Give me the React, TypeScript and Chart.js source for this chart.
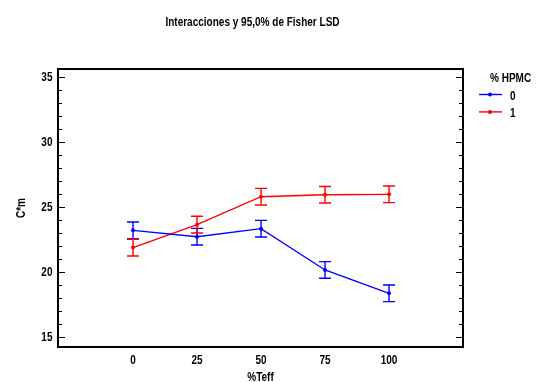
import React, { useEffect, useRef } from 'react';
import { Chart, registerables } from 'chart.js';

Chart.register(...registerables);

const TEFF = [0, 25, 50, 75, 100];
const HPMC0 = [23.18, 22.69, 23.31, 20.13, 18.33];
const HPMC1 = [21.85, 23.62, 25.77, 25.92, 25.95];
const LSD0 = [0.64, 0.64, 0.64, 0.64, 0.64];
const LSD1 = [0.64, 0.64, 0.64, 0.64, 0.64];
const X_TICKS = [0, 25, 50, 75, 100];
const Y_TICKS = [15, 20, 25, 30, 35];
const SERIES_LABELS = ['0', '1'];
const COLORS = ['#0000ff', '#ff0000'];
const TITLE = 'Interacciones y 95,0% de Fisher LSD';
const X_TITLE = '%Teff';
const Y_TITLE = 'C*m';
const LEGEND_TITLE = '% HPMC';

const FONT = "'Liberation Sans', Arial, sans-serif";
const SX = 0.77;

function drawText(ctx: CanvasRenderingContext2D, text: string, x: number, y: number, align: CanvasTextAlign, size = 13, rotate = false) {
  ctx.save();
  ctx.translate(x, y);
  if (rotate) ctx.rotate(-Math.PI / 2);
  ctx.scale(SX, 1);
  ctx.font = `bold ${size}px ${FONT}`;
  ctx.fillStyle = '#000';
  ctx.textAlign = align;
  ctx.textBaseline = 'alphabetic';
  ctx.fillText(text, 0, 0);
  ctx.restore();
}

const decorPlugin = {
  id: 'decor',
  afterDatasetsDraw(chart: any) {
    const ctx = chart.ctx;
    const xs = chart.scales.x;
    const ys = chart.scales.y;
    const errs = [LSD0, LSD1];
    chart.data.datasets.forEach((ds: any, di: number) => {
      ctx.save();
      ctx.strokeStyle = COLORS[di];
      ctx.lineWidth = 1.4;
      ds.data.forEach((p: any, i: number) => {
        const x = xs.getPixelForValue(p.x);
        const yt = ys.getPixelForValue(p.y + errs[di][i]);
        const yb = ys.getPixelForValue(p.y - errs[di][i]);
        ctx.beginPath();
        ctx.moveTo(x, yt);
        ctx.lineTo(x, yb);
        ctx.moveTo(x - 6, yt);
        ctx.lineTo(x + 6, yt);
        ctx.moveTo(x - 6, yb);
        ctx.lineTo(x + 6, yb);
        ctx.stroke();
      });
      ctx.restore();
    });
  },
  afterDraw(chart: any) {
    const ctx = chart.ctx;
    const a = chart.chartArea;
    const xs = chart.scales.x;
    const ys = chart.scales.y;
    ctx.save();
    ctx.strokeStyle = '#000';
    ctx.lineWidth = 2;
    ctx.strokeRect(a.left, a.top, a.right - a.left, a.bottom - a.top);
    ctx.lineWidth = 1.2;
    for (let v = Math.ceil(ys.min); v <= Math.floor(ys.max); v++) {
      const y = Math.round(ys.getPixelForValue(v)) + 0.5;
      const len = v % 5 === 0 ? 7 : 4;
      ctx.beginPath();
      ctx.moveTo(a.left, y);
      ctx.lineTo(a.left + len, y);
      ctx.moveTo(a.right, y);
      ctx.lineTo(a.right - len, y);
      ctx.stroke();
    }
    ctx.restore();

    // title
    drawText(ctx, TITLE, 252.5, 25.5, 'center', 13);
    // y tick labels
    Y_TICKS.forEach((v) => {
      drawText(ctx, String(v), a.left - 5.5, ys.getPixelForValue(v) + 4.7, 'right', 13);
    });
    // x tick labels
    X_TICKS.forEach((v) => {
      drawText(ctx, String(v), xs.getPixelForValue(v), a.bottom + 16.5, 'center', 13);
    });
    // axis titles
    drawText(ctx, X_TITLE, (a.left + a.right) / 2, a.bottom + 33.5, 'center', 13);
    drawText(ctx, Y_TITLE, 25, (a.top + a.bottom) / 2, 'center', 13, true);

    // legend
    const lx = a.right + 27;
    drawText(ctx, LEGEND_TITLE, a.right + 27, a.top + 12.5, 'left', 13);
    SERIES_LABELS.forEach((lab, i) => {
      const y = a.top + 25.5 + i * 17.4;
      ctx.save();
      ctx.strokeStyle = COLORS[i];
      ctx.lineWidth = 1.4;
      ctx.beginPath();
      ctx.moveTo(lx - 11, y);
      ctx.lineTo(lx + 12, y);
      ctx.stroke();
      ctx.fillStyle = COLORS[i];
      ctx.beginPath();
      ctx.arc(lx, y, 2, 0, Math.PI * 2);
      ctx.fill();
      ctx.restore();
      drawText(ctx, lab, lx + 20, y + 5, 'left', 13);
    });
  },
};

export default function App() {
  const ref = useRef<HTMLCanvasElement>(null);
  useEffect(() => {
    const chart = new Chart(ref.current!, {
      type: 'line',
      data: {
        datasets: [HPMC0, HPMC1].map((vals, di) => ({
          label: SERIES_LABELS[di],
          data: TEFF.map((x, i) => ({ x, y: vals[i] })),
          borderColor: COLORS[di],
          backgroundColor: COLORS[di],
          borderWidth: 1.4,
          pointRadius: 2,
          pointBorderWidth: 0,
          tension: 0,
        })),
      },
      options: {
        responsive: false,
        animation: false,
        devicePixelRatio: 1,
        layout: { padding: { left: 58, right: 76, top: 69, bottom: 35 } },
        plugins: {
          legend: { display: false },
          tooltip: { enabled: false },
          title: { display: false },
        },
        scales: {
          x: { type: 'linear', display: false, min: -29.3, max: 128.9 },
          y: { type: 'linear', display: false, min: 14.2, max: 35.6 },
        },
      },
      plugins: [decorPlugin],
    });
    return () => chart.destroy();
  }, []);
  return (
    <div style={{ position: 'fixed', left: 0, top: 0, width: 539, height: 382, background: '#fff' }}>
      <canvas ref={ref} width={539} height={382} style={{ display: 'block' }} />
    </div>
  );
}
